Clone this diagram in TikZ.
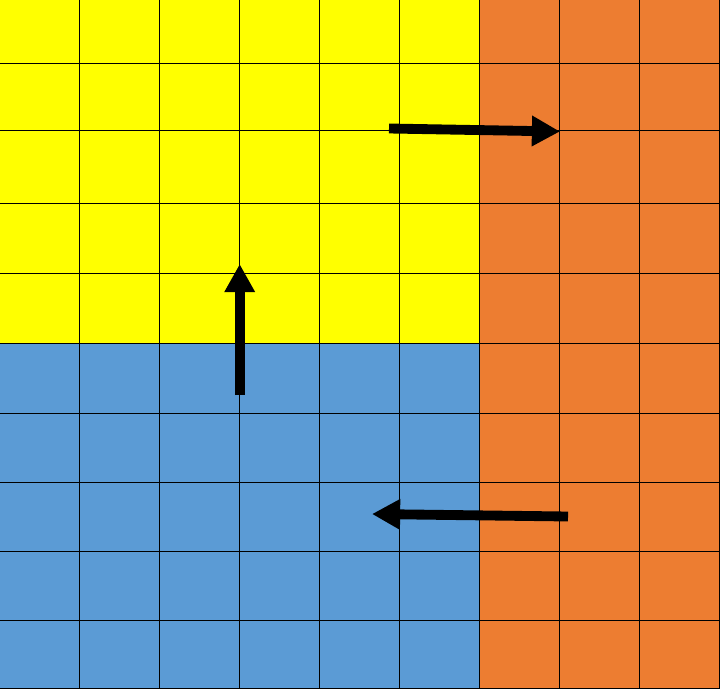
\documentclass[tikz,border=0pt]{standalone}
\usepackage{tikz}
\usetikzlibrary{arrows.meta}
\definecolor{cellYellow}{RGB}{255, 255, 0}
\definecolor{cellOrange}{RGB}{237, 125, 49}
\definecolor{cellBlue}{RGB}{91, 155, 213}
\begin{document}
\begin{tikzpicture}[x=0.025cm, y=-0.025cm,
    move/.style={line width=7pt, -{Triangle[length=20pt, width=20.5pt]}}]
    \useasboundingbox (0,0) rectangle (720,689);
    % regions
    \fill[cellYellow] (0,0) rectangle (479.5,343);
    \fill[cellBlue] (0,343) rectangle (479.5,689);
    \fill[cellOrange] (479.5,0) rectangle (720,689);
    % grid
    \foreach \gx in {79.5,159.5,...,719.5}
      \draw[line width=0.7pt] (\gx,0) -- (\gx,688.3);
    \foreach \gy in {63.3,130.3,203.3,273,343,413,482.3,551.3,620.3,688.3}
      \draw[line width=0.7pt] (0,\gy) -- (719.5,\gy);
    % moves
    \coordinate (rightFrom) at (389,128.5);
    \coordinate (rightTo) at (560,131.5);
    \coordinate (upFrom) at (239.7,395);
    \coordinate (upTo) at (239.7,264);
    \coordinate (leftFrom) at (568,516.5);
    \coordinate (leftTo) at (372,514);
    \draw[move] (rightFrom) -- (rightTo);
    \draw[move] (upFrom) -- (upTo);
    \draw[move] (leftFrom) -- (leftTo);
  \end{tikzpicture}
\end{document}
